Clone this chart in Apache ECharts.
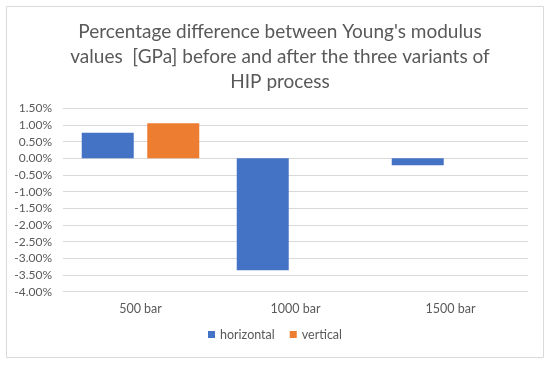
<!DOCTYPE html>
<html>
<head>
<meta charset="utf-8">
<script src="https://cdn.jsdelivr.net/npm/echarts@6/dist/echarts.min.js"></script>
<style>
html,body{margin:0;padding:0;background:#fff;}
#chart{width:550px;height:365px;}
</style>
</head>
<body>
<div id="chart"></div>
<script>
const categories = ['500 bar', '1000 bar', '1500 bar'];
const horizontal = [0.77, -3.36, -0.21];
const vertical = [1.05, null, null];
const seriesNames = ['horizontal', 'vertical'];
const titleText = "Percentage difference between Young's modulus\nvalues  [GPa] before and after the three variants of\nHIP process";

const chart = echarts.init(document.getElementById('chart'));
const textColor = '#595959';
const fontFamily = 'Lato, Liberation Sans, sans-serif';
chart.setOption({
  animation: false,
  backgroundColor: '#fff',
  graphic: [{
    type: 'rect',
    shape: {x: 6.5, y: 6.5, width: 537, height: 351},
    style: {fill: 'none', stroke: '#d9d9d9', lineWidth: 1}
  }],
  title: {
    text: titleText,
    left: 275,
    top: 14,
    textAlign: 'center',
    textStyle: {color: textColor, fontSize: 19, fontWeight: 'normal', lineHeight: 25, fontFamily: fontFamily, align: 'center'}
  },
  legend: {
    data: seriesNames,
    bottom: 19,
    left: 'center',
    icon: 'rect',
    itemWidth: 7,
    itemHeight: 7,
    itemGap: 15,
    textStyle: {color: textColor, fontSize: 12.5, fontFamily: fontFamily}
  },
  grid: {left: 63, right: 22, top: 108.3, bottom: 73.3, containLabel: false},
  xAxis: {
    type: 'category',
    data: categories,
    axisLine: {show: false},
    axisTick: {show: false},
    axisLabel: {color: textColor, fontSize: 12.5, margin: 11, fontFamily: fontFamily}
  },
  yAxis: {
    type: 'value',
    min: -4,
    max: 1.5,
    interval: 0.5,
    axisLine: {show: false},
    axisTick: {show: false},
    splitLine: {lineStyle: {color: '#d9d9d9', width: 1}},
    axisLabel: {color: textColor, fontSize: 12, margin: 11, fontFamily: fontFamily,
      formatter: v => v.toFixed(2) + '%'}
  },
  series: [
    {name: seriesNames[0], type: 'bar', data: horizontal, barWidth: 52, barGap: '26%',
     itemStyle: {color: '#4472C4'}},
    {name: seriesNames[1], type: 'bar', data: vertical, barWidth: 52, barGap: '26%',
     itemStyle: {color: '#ED7D31'}}
  ]
});
</script>
</body>
</html>
